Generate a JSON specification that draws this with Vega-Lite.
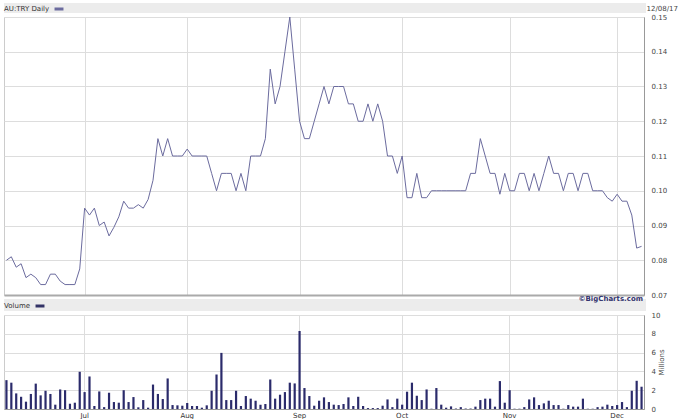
{
 "$schema": "https://vega.github.io/schema/vega-lite/v6.json",
 "padding": {"left": 3, "top": 2, "right": 0, "bottom": 0},
 "background": "white",
 "spacing": 4,
 "bounds": "flush",
 "config": {"font": "DejaVu Sans", "view": {"stroke": "#cccccc"}},
 "resolve": {"scale": {"color": "independent"}, "legend": {"color": "independent"}},
 "datasets": {"s": [
  {"d":"2017-06-08","p":0.080,"v":3.07},{"d":"2017-06-09","p":0.081,"v":2.8},{"d":"2017-06-13","p":0.078,"v":1.66},{"d":"2017-06-14","p":0.079,"v":1.3},{"d":"2017-06-15","p":0.075,"v":0.78},{"d":"2017-06-16","p":0.076,"v":1.6},{"d":"2017-06-19","p":0.075,"v":2.7},{"d":"2017-06-20","p":0.073,"v":1.45},{"d":"2017-06-21","p":0.073,"v":1.94},{"d":"2017-06-22","p":0.076,"v":1.6},{"d":"2017-06-23","p":0.076,"v":0.46},{"d":"2017-06-26","p":0.074,"v":2.08},{"d":"2017-06-27","p":0.073,"v":2.0},{"d":"2017-06-28","p":0.073,"v":0.56},{"d":"2017-06-29","p":0.073,"v":0.67},{"d":"2017-06-30","p":0.0775,"v":3.96},
  {"d":"2017-07-03","p":0.095,"v":1.8},{"d":"2017-07-04","p":0.093,"v":3.46},{"d":"2017-07-05","p":0.095,"v":0.32},{"d":"2017-07-06","p":0.090,"v":1.87},{"d":"2017-07-07","p":0.091,"v":0.2},{"d":"2017-07-10","p":0.087,"v":1.73},{"d":"2017-07-11","p":0.0895,"v":0.74},{"d":"2017-07-12","p":0.0925,"v":0.67},{"d":"2017-07-13","p":0.097,"v":2.0},{"d":"2017-07-14","p":0.095,"v":0.74},{"d":"2017-07-17","p":0.095,"v":1.27},{"d":"2017-07-18","p":0.096,"v":0.18},{"d":"2017-07-19","p":0.095,"v":0.95},{"d":"2017-07-20","p":0.0975,"v":0.14},{"d":"2017-07-21","p":0.103,"v":2.6},{"d":"2017-07-24","p":0.115,"v":1.6},{"d":"2017-07-25","p":0.110,"v":1.06},{"d":"2017-07-26","p":0.115,"v":3.25},{"d":"2017-07-27","p":0.110,"v":0.42},{"d":"2017-07-28","p":0.110,"v":0.39},{"d":"2017-07-31","p":0.110,"v":0.35},
  {"d":"2017-08-01","p":0.112,"v":0.64},{"d":"2017-08-02","p":0.110,"v":0.32},{"d":"2017-08-03","p":0.110,"v":0.32},{"d":"2017-08-04","p":0.110,"v":0.14},{"d":"2017-08-07","p":0.110,"v":0.39},{"d":"2017-08-08","p":0.105,"v":1.94},{"d":"2017-08-09","p":0.100,"v":3.67},{"d":"2017-08-10","p":0.105,"v":5.97},{"d":"2017-08-11","p":0.105,"v":0.95},{"d":"2017-08-14","p":0.105,"v":0.95},{"d":"2017-08-15","p":0.100,"v":1.94},{"d":"2017-08-16","p":0.105,"v":0.32},{"d":"2017-08-17","p":0.100,"v":1.38},{"d":"2017-08-18","p":0.110,"v":1.1},{"d":"2017-08-21","p":0.110,"v":0.88},{"d":"2017-08-22","p":0.110,"v":0.46},{"d":"2017-08-23","p":0.115,"v":0.53},{"d":"2017-08-24","p":0.135,"v":3.14},{"d":"2017-08-25","p":0.125,"v":1.1},{"d":"2017-08-28","p":0.130,"v":1.52},{"d":"2017-08-29","p":0.140,"v":1.8},{"d":"2017-08-30","p":0.150,"v":2.8},{"d":"2017-08-31","p":0.135,"v":2.72},
  {"d":"2017-09-01","p":0.120,"v":8.3},{"d":"2017-09-04","p":0.115,"v":2.23},{"d":"2017-09-05","p":0.115,"v":1.38},{"d":"2017-09-06","p":0.120,"v":0.35},{"d":"2017-09-07","p":0.125,"v":0.88},{"d":"2017-09-08","p":0.130,"v":1.24},{"d":"2017-09-11","p":0.125,"v":0.74},{"d":"2017-09-12","p":0.130,"v":0.46},{"d":"2017-09-13","p":0.130,"v":0.42},{"d":"2017-09-14","p":0.130,"v":0.53},{"d":"2017-09-15","p":0.125,"v":1.24},{"d":"2017-09-18","p":0.125,"v":0.32},{"d":"2017-09-19","p":0.120,"v":1.3},{"d":"2017-09-20","p":0.120,"v":0.32},{"d":"2017-09-21","p":0.125,"v":0.1},{"d":"2017-09-22","p":0.120,"v":0.1},{"d":"2017-09-25","p":0.125,"v":0.1},{"d":"2017-09-26","p":0.120,"v":0.35},{"d":"2017-09-27","p":0.110,"v":1.02},{"d":"2017-09-28","p":0.110,"v":0.2},{"d":"2017-09-29","p":0.105,"v":1.1},
  {"d":"2017-10-02","p":0.110,"v":0.46},{"d":"2017-10-03","p":0.098,"v":1.84},{"d":"2017-10-04","p":0.098,"v":2.8},{"d":"2017-10-05","p":0.105,"v":1.41},{"d":"2017-10-06","p":0.098,"v":0.95},{"d":"2017-10-09","p":0.098,"v":2.08},{"d":"2017-10-10","p":0.100,"v":0.03},{"d":"2017-10-11","p":0.100,"v":2.23},{"d":"2017-10-12","p":0.100,"v":0.46},{"d":"2017-10-13","p":0.100,"v":0.14},{"d":"2017-10-16","p":0.100,"v":0.28},{"d":"2017-10-17","p":0.100,"v":0.05},{"d":"2017-10-18","p":0.100,"v":0.2},{"d":"2017-10-19","p":0.100,"v":0.05},{"d":"2017-10-20","p":0.105,"v":0.05},{"d":"2017-10-23","p":0.105,"v":0.25},{"d":"2017-10-24","p":0.115,"v":0.95},{"d":"2017-10-25","p":0.110,"v":1.1},{"d":"2017-10-26","p":0.105,"v":1.1},{"d":"2017-10-27","p":0.105,"v":0.25},{"d":"2017-10-30","p":0.099,"v":2.97},{"d":"2017-10-31","p":0.105,"v":0.67},
  {"d":"2017-11-01","p":0.100,"v":2.0},{"d":"2017-11-02","p":0.100,"v":0.03},{"d":"2017-11-03","p":0.105,"v":0.03},{"d":"2017-11-06","p":0.105,"v":0.2},{"d":"2017-11-07","p":0.100,"v":1.02},{"d":"2017-11-08","p":0.105,"v":1.24},{"d":"2017-11-09","p":0.100,"v":0.42},{"d":"2017-11-10","p":0.105,"v":0.6},{"d":"2017-11-13","p":0.110,"v":0.88},{"d":"2017-11-14","p":0.105,"v":0.42},{"d":"2017-11-15","p":0.105,"v":0.42},{"d":"2017-11-16","p":0.100,"v":0.03},{"d":"2017-11-17","p":0.105,"v":0.42},{"d":"2017-11-20","p":0.105,"v":0.25},{"d":"2017-11-21","p":0.100,"v":0.25},{"d":"2017-11-22","p":0.105,"v":1.1},{"d":"2017-11-23","p":0.105,"v":0.03},{"d":"2017-11-24","p":0.100,"v":0.03},{"d":"2017-11-27","p":0.100,"v":0.2},{"d":"2017-11-28","p":0.100,"v":0.25},{"d":"2017-11-29","p":0.098,"v":0.46},{"d":"2017-11-30","p":0.097,"v":0.32},
  {"d":"2017-12-01","p":0.099,"v":0.42},{"d":"2017-12-04","p":0.097,"v":0.74},{"d":"2017-12-05","p":0.097,"v":0.2},{"d":"2017-12-06","p":0.093,"v":1.94},{"d":"2017-12-07","p":0.0835,"v":3.0},{"d":"2017-12-08","p":0.084,"v":2.37}
 ]},
 "vconcat": [
  {
   "width": 642, "height": 10,
   "view": {"fill": "#ececec", "stroke": null},
   "data": {"values": [{"t": ""}]},
   "mark": {"type": "text"},
   "encoding": {"text": {"field": "t"}}
  },
  {
   "width": 640, "height": 278,
   "data": {"name": "s"},
   "mark": {"type": "line", "strokeWidth": 1},
   "encoding": {
    "x": {"field": "d", "type": "ordinal", "scale": {"type": "point", "padding": 0.5},
          "axis": {"values": ["2017-07-03","2017-08-01","2017-09-01","2017-10-02","2017-11-01","2017-12-01"], "labels": false, "ticks": false, "title": null, "grid": true, "gridColor": "#dddddd", "domainColor": "#aaaaaa", "domainWidth": 2}},
    "y": {"field": "p", "type": "quantitative", "scale": {"domain": [0.07, 0.15], "zero": false, "nice": false},
          "axis": {"orient": "right", "values": [0.07,0.08,0.09,0.10,0.11,0.12,0.13,0.14,0.15], "format": ".2f", "grid": true, "gridColor": "#dddddd", "ticks": false, "labelPadding": 7, "labelFontSize": 7, "labelColor": "#444444", "labelFlush": false, "domainColor": "#999999",
                   "title": "12/08/17", "titleAngle": 0, "titleAlign": "left", "titleBaseline": "middle", "titleX": 2, "titleY": -9, "titleFontSize": 7, "titleFontWeight": "normal", "titleColor": "#444444"}},
    "color": {"datum": "AU:TRY Daily", "scale": {"range": ["#6b6b9e"]},
              "legend": {"orient": "top", "direction": "horizontal", "title": "AU:TRY Daily", "titleOrient": "left", "titleFontSize": 7, "titleFontWeight": "normal", "titleColor": "#333333", "titlePadding": 3, "labelExpr": "''", "labelFontSize": 1, "symbolType": "stroke", "symbolStrokeWidth": 3, "symbolSize": 80, "symbolStrokeColor": "#333366", "offset": 2, "padding": 0}}
   }
  },
  {
   "width": 642, "height": 12,
   "view": {"fill": "#ececec", "stroke": null},
   "title": {"text": "©BigCharts.com", "anchor": "end", "orient": "top", "offset": -10, "baseline": "bottom", "fontSize": 7, "fontWeight": "bold", "color": "#33336e", "dx": -3},
   "data": {"values": [{"t": ""}]},
   "mark": {"type": "text"},
   "encoding": {"text": {"field": "t"}}
  },
  {
   "width": 640, "height": 94,
   "data": {"name": "s"},
   "mark": {"type": "bar"},
   "encoding": {
    "x": {"field": "d", "type": "ordinal", "scale": {"type": "band", "paddingInner": 0.55, "paddingOuter": 0.275},
          "axis": {"values": ["2017-07-03","2017-08-01","2017-09-01","2017-10-02","2017-11-01","2017-12-01"], "labelExpr": "utcFormat(toDate(datum.value), '%b')", "labelAngle": 0, "labelFontSize": 7, "labelColor": "#333333", "labelPadding": 2, "ticks": false, "title": null, "grid": true, "gridColor": "#dddddd", "domainColor": "#999999"}},
    "y": {"field": "v", "type": "quantitative", "scale": {"domain": [0, 10], "nice": false},
          "axis": {"orient": "right", "values": [0,2,4,6,8,10], "grid": true, "gridColor": "#dddddd", "ticks": false, "labelPadding": 7, "labelFontSize": 7, "labelColor": "#444444", "labelFlush": false, "domainColor": "#999999",
                   "title": "Millions", "titleAngle": 270, "titleFontSize": 7, "titleFontWeight": "normal", "titleColor": "#444444", "titlePadding": 5}},
    "color": {"datum": "Volume", "scale": {"range": ["#2b2b6b"]},
              "legend": {"orient": "top", "direction": "horizontal", "title": "Volume", "titleOrient": "left", "titleFontSize": 7, "titleFontWeight": "normal", "titleColor": "#333333", "titlePadding": 3, "labelExpr": "''", "labelFontSize": 1, "symbolType": "stroke", "symbolStrokeWidth": 3, "symbolSize": 80, "symbolStrokeColor": "#333366", "offset": 3, "padding": 0}}
   }
  }
 ]
}
